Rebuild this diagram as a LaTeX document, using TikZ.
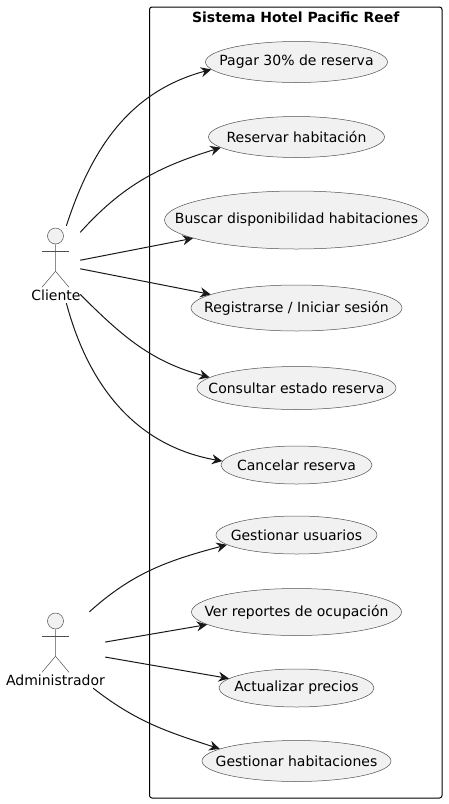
\documentclass[tikz,border=0pt]{standalone}
\usepackage{fontspec}
\setmainfont{DejaVu Sans}
\usetikzlibrary{shapes.geometric,arrows.meta}
\definecolor{ucfill}{HTML}{F1F1F1}
\definecolor{ucline}{HTML}{181818}
\definecolor{thinline}{HTML}{505050}
\tikzstyle{usecase} = [draw=thinline, line width=0.5pt, fill=ucfill, ellipse, inner sep=0pt, font=\fontsize{14}{16}\selectfont]
\tikzstyle{system} = [draw=black, line width=1pt, rectangle, rounded corners=2.5pt, inner sep=0pt]
\tikzstyle{head} = [draw=thinline, line width=0.5pt, fill=ucfill, circle, inner sep=0pt, minimum size=16pt]
\tikzstyle{limb} = [draw=thinline, line width=0.5pt]
\tikzstyle{actorbox} = [rectangle, inner sep=0pt]
\tikzstyle{actorname} = [inner sep=0pt, font=\fontsize{14}{16}\selectfont]
\tikzstyle{link} = [draw=ucline, line width=1pt, -{Stealth[length=10.5pt,width=10pt,inset=3.5pt]}]
\newcommand{\uclabel}[1]{\makebox[0pt]{#1}}

\begin{document}
\begin{tikzpicture}[x=1pt, y=1pt, node distance=75pt]
\useasboundingbox (0,0) rectangle (448,-804);

% system frame
\node [system, minimum width=292.5pt, minimum height=791pt] (sistema) at (295.75,-402.5) {};
\node [below=3pt, font=\fontsize{14}{16}\selectfont\bfseries, inner sep=2pt] (titulo) at (sistema.north) {Sistema Hotel Pacific Reef};

% use cases
\node [usecase, minimum width=182pt, minimum height=41pt] (pagar) at (296.5,-62) {\uclabel{Pagar 30\% de reserva}};
\node [usecase, below of=pagar, minimum width=176pt, minimum height=41pt] (reservar) {\uclabel{Reservar habitación}};
\node [usecase, below of=reservar, node distance=83pt, minimum width=264pt, minimum height=58pt] (buscar) {\uclabel{Buscar disponibilidad habitaciones}};
\node [usecase, below of=buscar, node distance=88pt, minimum width=211pt, minimum height=46pt] (registrar) {\uclabel{Registrarse / Iniciar sesión}};
\node [usecase, below of=registrar, node distance=80pt, minimum width=199pt, minimum height=43pt] (consultar) {\uclabel{Consultar estado reserva}};
\node [usecase, below of=consultar, node distance=77pt, minimum width=151pt, minimum height=38pt] (cancelar) {\uclabel{Cancelar reserva}};
\node [usecase, below of=cancelar, node distance=70pt, minimum width=161pt, minimum height=38pt] (usuarios) {\uclabel{Gestionar usuarios}};
\node [usecase, below of=usuarios, node distance=77pt, minimum width=210pt, minimum height=47pt] (reportes) {\uclabel{Ver reportes de ocupación}};
\node [usecase, below of=reportes, node distance=76pt, minimum width=155pt, minimum height=38pt] (precios) {\uclabel{Actualizar precios}};
\node [usecase, below of=precios, node distance=73pt, minimum width=189pt, minimum height=41pt] (habitaciones) {\uclabel{Gestionar habitaciones}};

% actors
\node [actorbox, minimum width=48pt, minimum height=77pt] (cliente) at (56,-264.5) {};
\node [head] (cabeza1) at (55.5,-236) {};
\node [actorname] (nombre1) at (56,-295) {Cliente};
\draw [limb] (cabeza1.south) -- ++(0,-27) -- ++(-13.5,-16);
\draw [limb] (cabeza1.south) ++(0,-27) -- ++(13.5,-16);
\draw [limb] (cabeza1.south) ++(-13.5,-7) -- ++(27,0);

\node [actorbox, minimum width=100pt, minimum height=76pt] (admin) at (55,-650) {};
\node [head] (cabeza2) at (55.5,-621) {};
\node [actorname] (nombre2) at (55.5,-680) {Administrador};
\draw [limb] (cabeza2.south) -- ++(0,-27) -- ++(-13.5,-16);
\draw [limb] (cabeza2.south) ++(0,-27) -- ++(13.5,-16);
\draw [limb] (cabeza2.south) ++(-13.5,-7) -- ++(27,0);

% links
\draw [link] (cliente.75.4) to[out=72, in=195] (pagar.185.4);
\draw [link] (cliente.53.6) to[out=48, in=197] (reservar.188.2);
\draw [link] (cliente.10.6) -- (buscar.190.5);
\draw [link] (cliente.-10.6) -- (registrar.171);
\draw [link] (cliente.-51.8) to[out=-45, in=165] (consultar.173.6);
\draw [link] (cliente.-75.4) to[out=-75, in=170] (cancelar.177);
\draw [link] (admin.48.2) to[out=42, in=195] (usuarios.188);
\draw [link] (admin.9.1) -- (reportes.188.5);
\draw [link] (admin.-8) -- (precios.172.7);
\draw [link] (admin.-45) to[out=-38, in=162] (habitaciones.171);

\end{tikzpicture}
\end{document}
